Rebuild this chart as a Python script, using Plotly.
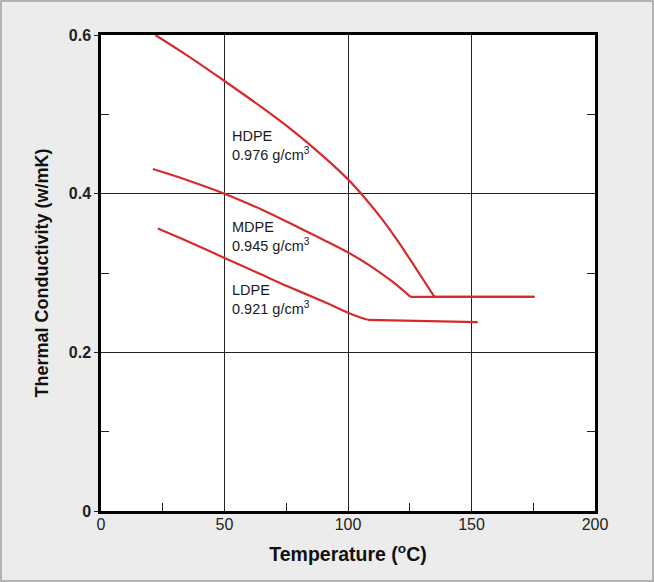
import plotly.graph_objects as go

# ---- data ----
hdpe_x = [22, 35, 50, 65, 77, 90, 100, 107, 114, 120, 126, 131, 135, 175.5]
hdpe_y = [0.600, 0.574, 0.542, 0.509, 0.481, 0.447, 0.418, 0.394, 0.367, 0.341, 0.313, 0.289, 0.270, 0.270]

mdpe_x = [21, 35, 50, 65, 77, 90, 100, 109, 118, 125.3, 175.5]
mdpe_y = [0.431, 0.417, 0.400, 0.380, 0.362, 0.342, 0.326, 0.309, 0.289, 0.270, 0.270]

ldpe_x = [23, 35, 50, 65, 75, 90, 100, 105, 108, 152.5]
ldpe_y = [0.356, 0.340, 0.319, 0.298, 0.284, 0.264, 0.250, 0.244, 0.241, 0.238]

labels = ["HDPE", "MDPE", "LDPE"]
densities = ["0.976", "0.945", "0.921"]
label_x = [52.4, 52.4, 52.4]
label_y = [0.461, 0.346, 0.267]

x_ticks = [0, 50, 100, 150, 200]
x_minor = [25, 75, 125, 175]
y_ticks = [0, 0.2, 0.4, 0.6]
y_ticktext = ["0", "0.2", "0.4", "0.6"]
y_minor = [0.1, 0.3, 0.5]

W, H = 654, 582
ML, MR, MT, MB = 101, 59, 35, 71

RED = "#d62b2b"
FONT = "Liberation Sans, Arial, sans-serif"

fig = go.Figure()
for xs, ys in [(hdpe_x, hdpe_y), (mdpe_x, mdpe_y), (ldpe_x, ldpe_y)]:
    # curved part (smooth) up to the kink
    fig.add_trace(go.Scatter(x=xs[:-1], y=ys[:-1], mode="lines",
                             line=dict(color=RED, width=2.2, shape="spline", smoothing=0.9),
                             showlegend=False, hoverinfo="skip"))
    # flat plateau after the kink
    fig.add_trace(go.Scatter(x=xs[-2:], y=ys[-2:], mode="lines",
                             line=dict(color=RED, width=2.2),
                             showlegend=False, hoverinfo="skip"))
# helper trace for right-side axis ticks
fig.add_trace(go.Scatter(x=[None], y=[None], yaxis="y2", showlegend=False, hoverinfo="skip"))

for name, dens, lx, ly in zip(labels, densities, label_x, label_y):
    fig.add_annotation(x=lx, y=ly, xref="x", yref="y", xanchor="left", yanchor="middle",
                       align="left", showarrow=False,
                       text=f"{name}<br>{dens} g/cm<sup>3</sup>",
                       font=dict(family=FONT, size=14.5, color="#1a1a1a"))

pw = W - ML - MR
ph = H - MT - MB
fig.add_shape(type="rect", xref="paper", yref="paper",
              x0=-(ML - 1) / pw, x1=1 + (MR - 1) / pw,
              y0=-(MB - 1) / ph, y1=1 + (MT - 1) / ph,
              line=dict(color="#a0a0a0", width=1.5), layer="below")

fig.update_layout(
    width=W, height=H,
    margin=dict(l=ML, r=MR, t=MT, b=MB),
    paper_bgcolor="#ececec",
    plot_bgcolor="white",
    font=dict(family=FONT, color="#111"),
    xaxis=dict(
        range=[0, 200], tickvals=x_ticks, ticks="",
        tickfont=dict(family=FONT, size=16, color="#222"),
        ticklabelstandoff=-3,
        showgrid=True, gridcolor="#222", gridwidth=1.2,
        showline=True, linecolor="black", linewidth=2.5, mirror=True,
        zeroline=False,
        minor=dict(tickvals=x_minor, ticks="inside", ticklen=8, tickcolor="#222", tickwidth=1.3, showgrid=False),
        title=dict(text="Temperature (<sup>o</sup>C)", standoff=16,
                   font=dict(family=FONT, size=19.5, color="#111", weight="bold")),
    ),
    yaxis=dict(
        range=[0, 0.6], tickvals=y_ticks, ticktext=y_ticktext,
        ticks="outside", ticklen=4, tickcolor="#222", tickwidth=1.3,
        tickfont=dict(family=FONT, size=16, color="#222", weight="bold"),
        showgrid=True, gridcolor="#222", gridwidth=1.2,
        showline=True, linecolor="black", linewidth=2.5, mirror=True,
        zeroline=False,
        minor=dict(tickvals=y_minor, ticks="inside", ticklen=8, tickcolor="#222", tickwidth=1.3, showgrid=False),
        title=dict(text="Thermal Conductivity (w/mK)", standoff=16,
                   font=dict(family=FONT, size=18, color="#111", weight="bold")),
    ),
    yaxis2=dict(
        range=[0, 0.6], overlaying="y", side="right", showticklabels=False,
        ticks="", showgrid=False, showline=False, zeroline=False,
        tickvals=y_ticks,
        minor=dict(tickvals=y_minor, ticks="inside", ticklen=8, tickcolor="#222", tickwidth=1.3, showgrid=False),
    ),
)

fig.write_html("out.html", config={"displayModeBar": False},
               post_script="document.body.style.margin='0px';")
